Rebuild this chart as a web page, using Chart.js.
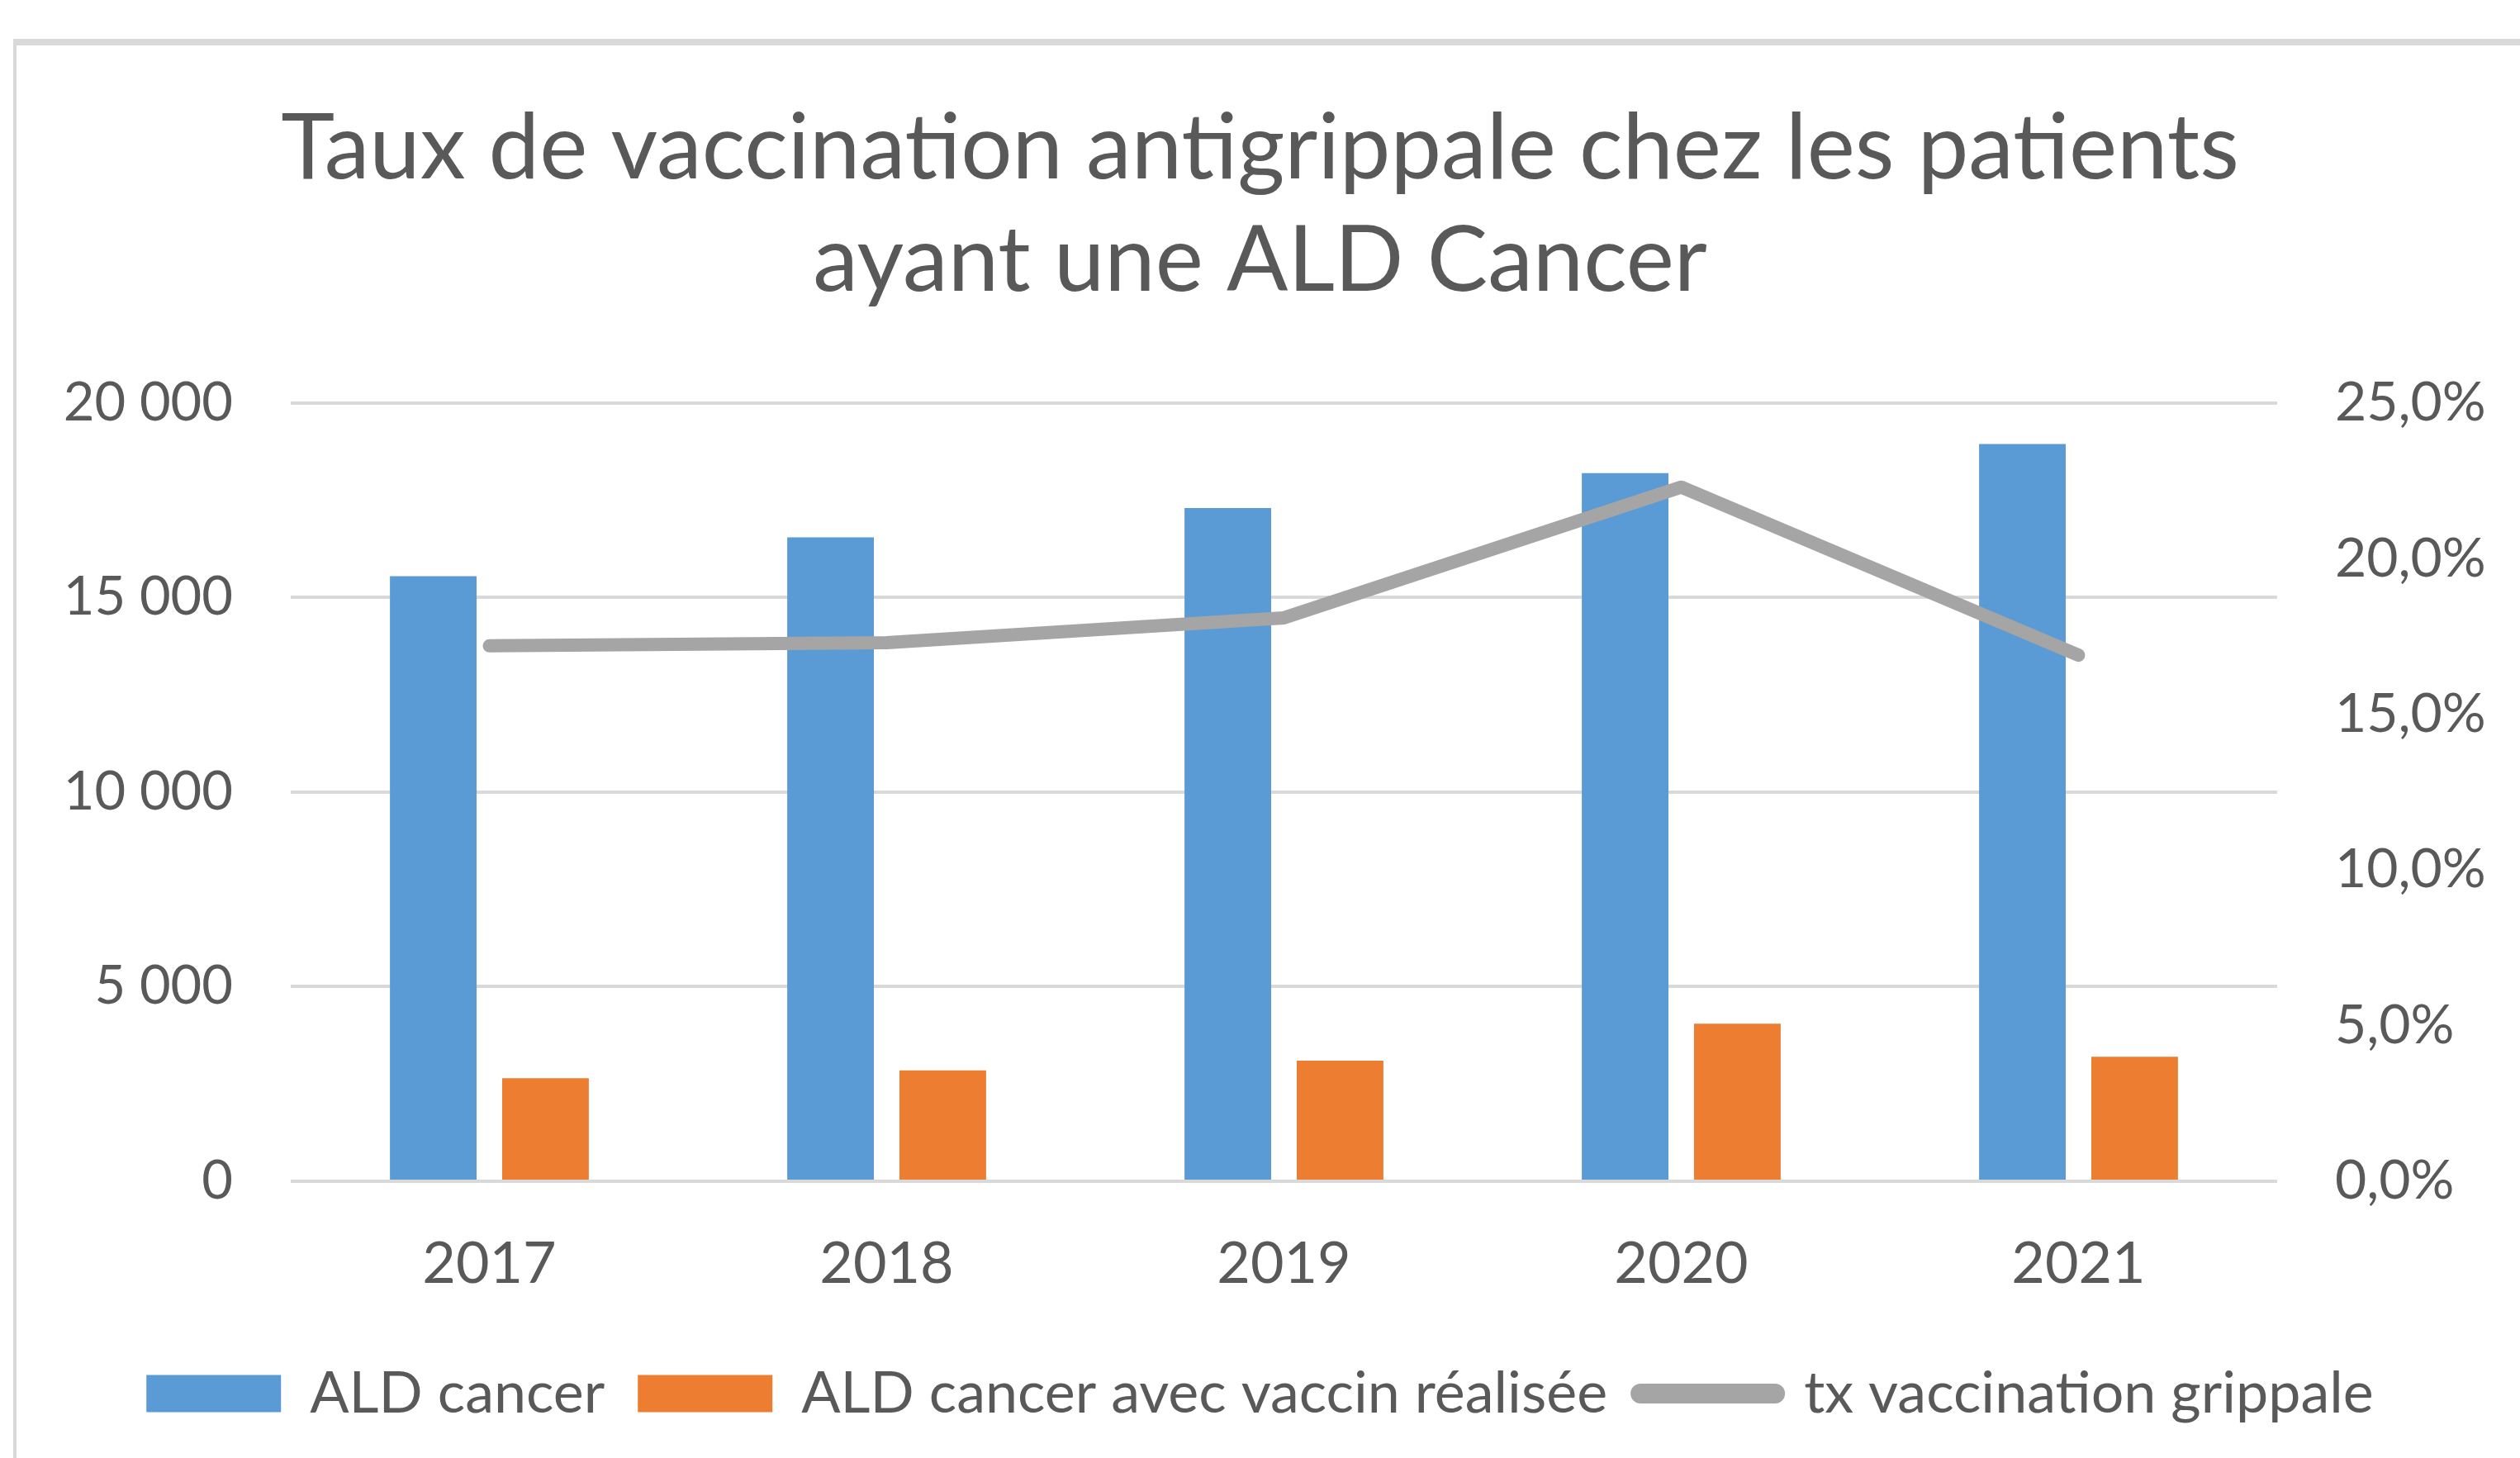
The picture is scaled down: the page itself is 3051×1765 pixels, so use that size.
<!DOCTYPE html>
<html>
<head>
<meta charset="utf-8">
<script src="https://cdn.jsdelivr.net/npm/chart.js"></script>
<style>
  body { margin: 0; background: #ffffff; overflow: hidden; }
  #frame {
    position: absolute; left: 16px; top: 47px; width: 3100px; height: 1800px;
    border-top: 8px solid #d9d9d9; border-left: 4px solid #d9d9d9;
  }
  #myChart { position: absolute; left: 0; top: 0; }
</style>
</head>
<body>
<div id="frame"></div>
<canvas id="myChart" width="3051" height="1765"></canvas>
<script>
// Years on the x-axis
const years = ['2017', '2018', '2019', '2020', '2021'];
// Number of patients with ALD cancer
const aldCancer = [15550, 16550, 17300, 18200, 18950];
// Patients with ALD cancer who were vaccinated
const aldVaccin = [2650, 2850, 3100, 4050, 3200];
// Flu vaccination rate (%)
const txVaccination = [17.2, 17.3, 18.1, 22.3, 16.9];
// Tick values for both axes
const leftTicks = [0, 5000, 10000, 15000, 20000];
const rightTicks = [0, 5, 10, 15, 20, 25];

const textColor = '#595959';
const fontFamily = 'Lato, "Open Sans", sans-serif';

// format 20000 -> "20 000"
function formatThousands(v) {
  return String(v).replace(/\B(?=(\d{3})+(?!\d))/g, ' ');
}

const chart = document.getElementById('myChart');
new Chart(chart, {
  type: 'bar',
  data: {
    labels: years,
    datasets: [{
      label: 'ALD cancer',
      data: aldCancer,
      backgroundColor: '#5b9bd5',
      yAxisID: 'y',
      order: 1,
      barPercentage: 0.772,
      categoryPercentage: 0.565
    }, {
      label: 'ALD cancer avec vaccin réalisée',
      data: aldVaccin,
      backgroundColor: '#ed7d31',
      yAxisID: 'y',
      order: 1,
      barPercentage: 0.772,
      categoryPercentage: 0.565
    }, {
      type: 'line',
      label: 'tx vaccination grippale',
      data: txVaccination,
      borderColor: '#a5a5a5',
      backgroundColor: '#a5a5a5',
      borderWidth: 16,
      borderCapStyle: 'round',
      borderJoinStyle: 'round',
      pointRadius: 0,
      tension: 0,
      yAxisID: 'y1',
      order: 0
    }]
  },
  options: {
    responsive: false,
    animation: false,
    layout: { padding: { left: 0, right: 0, top: 0, bottom: 33 } },
    plugins: {
      tooltip: { enabled: false },
      title: {
        display: true,
        text: ['Taux de vaccination antigrippale chez les patients', 'ayant une ALD Cancer'],
        color: textColor,
        font: { family: fontFamily, size: 110, weight: 'normal', lineHeight: 1.236 },
        padding: { top: 113, bottom: 103 }
      },
      legend: {
        position: 'bottom',
        labels: {
          color: textColor,
          font: { family: fontFamily, size: 70 },
          usePointStyle: true,
          boxHeight: 45,
          pointStyleWidth: 163,
          padding: 40,
          sort: (a, b) => a.datasetIndex - b.datasetIndex,
          generateLabels: (c) => {
            const items = Chart.defaults.plugins.legend.labels.generateLabels(c);
            items.forEach((item) => {
              if (item.datasetIndex === 2) {
                item.pointStyle = 'line';
                item.lineWidth = 24;
                item.lineCap = 'round';
                item.strokeStyle = '#a5a5a5';
              } else {
                item.pointStyle = 'rect';
                item.lineWidth = 0;
              }
            });
            return items;
          }
        }
      }
    },
    scales: {
      x: {
        grid: { display: false },
        border: { display: false },
        ticks: { color: textColor, font: { family: fontFamily, size: 70 }, padding: 50 },
        afterFit: (scale) => { scale.height = 182; }
      },
      y: {
        position: 'left',
        min: 0,
        max: 20000,
        afterBuildTicks: (scale) => { scale.ticks = leftTicks.map(v => ({ value: v })); },
        grid: { color: '#d9d9d9', lineWidth: 4, drawTicks: false },
        border: { display: false },
        ticks: {
          color: textColor,
          font: { family: fontFamily, size: 65 },
          padding: 70,
          callback: (v) => formatThousands(v)
        },
        afterFit: (scale) => { scale.width = 352; }
      },
      y1: {
        position: 'right',
        min: 0,
        max: 25,
        afterBuildTicks: (scale) => { scale.ticks = rightTicks.map(v => ({ value: v })); },
        grid: { display: false, drawTicks: false },
        border: { display: false },
        ticks: {
          color: textColor,
          font: { family: fontFamily, size: 66 },
          padding: 70,
          callback: (v) => v.toFixed(1).replace('.', ',') + '%'
        },
        afterFit: (scale) => { scale.width = 294; }
      }
    }
  }
});
</script>
</body>
</html>
